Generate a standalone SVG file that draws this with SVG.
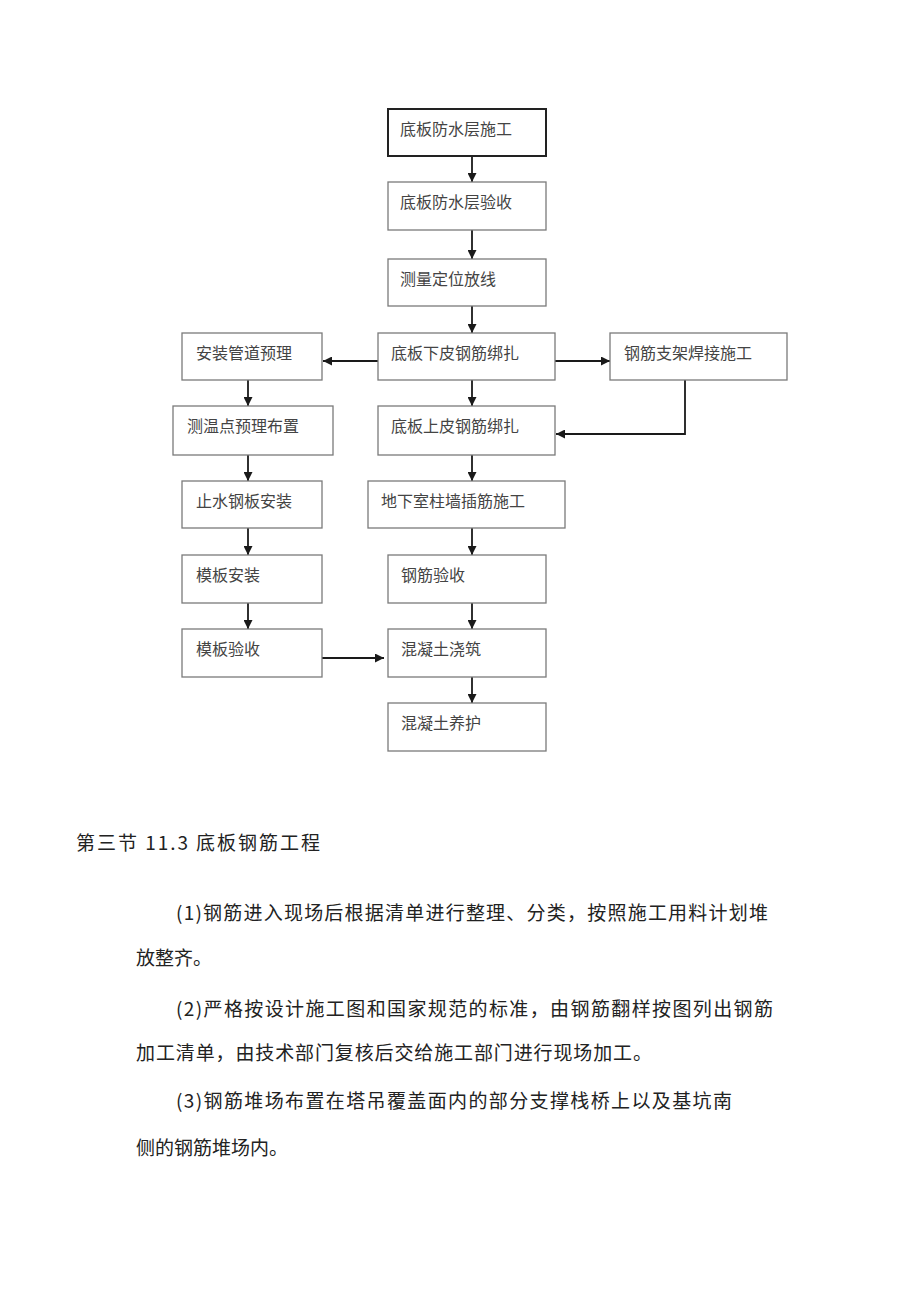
<svg xmlns="http://www.w3.org/2000/svg" width="920" height="1301" viewBox="0 0 920 1301">
<style>
.box{fill:#fff;stroke:#7a7a7a;stroke-width:1.3}
.box1{fill:#fff;stroke:#222;stroke-width:2}
.lbl{font-family:"Noto Sans CJK SC","Liberation Serif",sans-serif;font-size:16px;fill:#444}
.ln{fill:none;stroke:#1a1a1a;stroke-width:1.8}
.body{font-family:"Noto Sans CJK SC","Liberation Serif",sans-serif;font-size:19px;fill:#222}
</style>
<defs>
<marker id="ah" viewBox="0 0 10 10" refX="10" refY="5" markerWidth="9" markerHeight="9" orient="auto" markerUnits="userSpaceOnUse">
<path d="M0,0 L10,5 L0,10 z" fill="#1a1a1a"/>
</marker>
</defs>
<rect width="920" height="1301" fill="#fff"/>
<g id="connectors">
<line class="ln" x1="472" y1="156" x2="472" y2="182" marker-end="url(#ah)"/>
<line class="ln" x1="472" y1="230" x2="472" y2="259" marker-end="url(#ah)"/>
<line class="ln" x1="472" y1="306" x2="472" y2="333" marker-end="url(#ah)"/>
<line class="ln" x1="378" y1="361" x2="323" y2="361" marker-end="url(#ah)"/>
<line class="ln" x1="555" y1="361" x2="610" y2="361" marker-end="url(#ah)"/>
<line class="ln" x1="248" y1="380" x2="248" y2="406" marker-end="url(#ah)"/>
<line class="ln" x1="472" y1="380" x2="472" y2="406" marker-end="url(#ah)"/>
<polyline class="ln" points="685,380 685,434 556,434" marker-end="url(#ah)"/>
<line class="ln" x1="248" y1="455" x2="248" y2="481" marker-end="url(#ah)"/>
<line class="ln" x1="472" y1="455" x2="472" y2="481" marker-end="url(#ah)"/>
<line class="ln" x1="248" y1="528" x2="248" y2="555" marker-end="url(#ah)"/>
<line class="ln" x1="472" y1="528" x2="472" y2="555" marker-end="url(#ah)"/>
<line class="ln" x1="248" y1="603" x2="248" y2="629" marker-end="url(#ah)"/>
<line class="ln" x1="472" y1="603" x2="472" y2="629" marker-end="url(#ah)"/>
<line class="ln" x1="322" y1="658" x2="384" y2="658" marker-end="url(#ah)"/>
<line class="ln" x1="472" y1="677" x2="472" y2="703" marker-end="url(#ah)"/>
</g>
<g id="n1"><rect class="box1" x="388" y="109" width="158" height="47"/><text class="lbl" x="400" y="135">底板防水层施工</text></g>
<g id="n2"><rect class="box" x="388" y="182" width="158" height="48"/><text class="lbl" x="400" y="208">底板防水层验收</text></g>
<g id="n3"><rect class="box" x="388" y="259" width="158" height="47"/><text class="lbl" x="400" y="285">测量定位放线</text></g>
<g id="n4"><rect class="box" x="378" y="333" width="177" height="47"/><text class="lbl" x="391" y="359">底板下皮钢筋绑扎</text></g>
<g id="n5"><rect class="box" x="182" y="333" width="140" height="47"/><text class="lbl" x="196" y="359">安装管道预理</text></g>
<g id="n6"><rect class="box" x="610" y="333" width="177" height="47"/><text class="lbl" x="624" y="359">钢筋支架焊接施工</text></g>
<g id="n7"><rect class="box" x="173" y="406" width="160" height="49"/><text class="lbl" x="187" y="432">测温点预理布置</text></g>
<g id="n8"><rect class="box" x="378" y="406" width="177" height="49"/><text class="lbl" x="391" y="432">底板上皮钢筋绑扎</text></g>
<g id="n9"><rect class="box" x="182" y="481" width="140" height="47"/><text class="lbl" x="196" y="507">止水钢板安装</text></g>
<g id="n10"><rect class="box" x="368" y="481" width="197" height="47"/><text class="lbl" x="381" y="507">地下室柱墙插筋施工</text></g>
<g id="n11"><rect class="box" x="182" y="555" width="140" height="48"/><text class="lbl" x="196" y="581">模板安装</text></g>
<g id="n12"><rect class="box" x="388" y="555" width="158" height="48"/><text class="lbl" x="401" y="581">钢筋验收</text></g>
<g id="n13"><rect class="box" x="182" y="629" width="140" height="48"/><text class="lbl" x="196" y="655">模板验收</text></g>
<g id="n14"><rect class="box" x="388" y="629" width="158" height="48"/><text class="lbl" x="401" y="655">混凝土浇筑</text></g>
<g id="n15"><rect class="box" x="388" y="703" width="158" height="48"/><text class="lbl" x="401" y="729">混凝土养护</text></g>
<g id="text">
<text class="body" x="76" y="850" textLength="244" lengthAdjust="spacing">第三节 11.3 底板钢筋工程</text>
<text class="body" x="176" y="920" textLength="592" lengthAdjust="spacing">(1)钢筋进入现场后根据清单进行整理、分类，按照施工用料计划堆</text>
<text class="body" x="136" y="965">放整齐。</text>
<text class="body" x="176" y="1016" textLength="597" lengthAdjust="spacing">(2)严格按设计施工图和国家规范的标准，由钢筋翻样按图列出钢筋</text>
<text class="body" x="136" y="1060" textLength="516" lengthAdjust="spacing">加工清单，由技术部门复核后交给施工部门进行现场加工。</text>
<text class="body" x="176" y="1108" textLength="556" lengthAdjust="spacing">(3)钢筋堆场布置在塔吊覆盖面内的部分支撑栈桥上以及基坑南</text>
<text class="body" x="136" y="1155" textLength="152" lengthAdjust="spacing">侧的钢筋堆场内。</text>
</g>
</svg>
